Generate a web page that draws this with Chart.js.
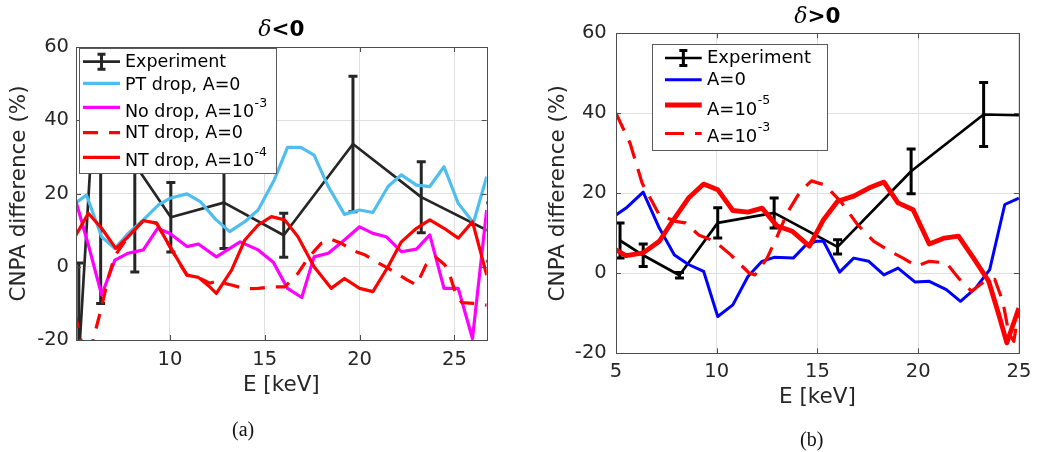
<!DOCTYPE html>
<html>
<head>
<meta charset="utf-8">
<script src="https://cdn.jsdelivr.net/npm/chart.js@4.4.1/dist/chart.umd.min.js"></script>
<style>
  body { margin: 0; background: #fff; }
  #wrap { position: relative; width: 1038px; height: 452px; overflow: hidden; }
  #wrap canvas { position: absolute; top: 0; }
  .cap { position: absolute; font-family: "Liberation Serif", "DejaVu Serif", serif; font-size: 20px; color: #111; line-height: 23px; }
</style>
</head>
<body>
<div id="wrap">
  <canvas id="chartNeg" width="520" height="452" style="left:0"></canvas>
  <canvas id="chartPos" width="518" height="452" style="left:520px"></canvas>
  <div class="cap" style="left:232px; top:418px">(a)</div>
  <div class="cap" style="left:800px; top:428px">(b)</div>
</div>
<script>
const FONT = "'DejaVu Sans', 'Open Sans', sans-serif";
const INK = "#262626";

// measured CNPA channels (same energies for both signs of delta)
const expEnergy = [5.2, 6.35, 8.15, 10.05, 12.85, 16.0, 19.65, 23.25, 26.9];

// ---- delta < 0 ----
const expNeg = [-25, 75, 28, 13.5, 17.5, 8.6, 33.5, 19.0, 9.5];
const expNegErr = [26, 85, 29.4, 9.5, 12.5, 6.0, 18.5, 9.7, 8.0];

const ptDropE = [5.0, 5.6, 6.4, 7.1, 7.8, 8.6, 9.4, 10.0, 10.9, 11.6, 12.4, 13.15, 13.95, 14.65, 15.5, 16.2, 16.9, 17.6, 18.35, 19.2, 20.0, 20.7, 21.5, 22.2, 23.0, 23.7, 24.45, 25.2, 26.0, 26.7];
const ptDropA0 = [17.3, 19.6, 8.2, 5.0, 9.1, 12.8, 16.9, 18.7, 19.9, 17.8, 13.0, 9.6, 12.3, 15.5, 23.7, 32.6, 32.6, 30.5, 21.9, 14.3, 15.5, 14.8, 21.9, 25.1, 22.3, 21.9, 27.3, 17.3, 12.0, 24.6];

const noDropE = [5.0, 5.7, 6.4, 7.1, 7.8, 8.6, 9.35, 10.0, 10.9, 11.5, 12.45, 13.7, 14.65, 15.45, 16.2, 16.95, 17.6, 18.35, 19.2, 20.0, 20.7, 21.4, 22.2, 23.0, 23.7, 24.45, 25.2, 25.95, 26.7];
const noDropA3 = [18.7, 6.0, -7.7, 1.8, 3.7, 4.6, 10.5, 9.1, 5.5, 6.2, 2.7, 6.8, 4.6, 1.2, -5.9, -8.4, 2.7, 3.7, 7.3, 10.9, 9.1, 8.2, 4.1, 4.8, 8.7, -5.9, -5.9, -19.6, 15.5];

const ntDropE = [5.0, 5.7, 6.4, 7.15, 7.8, 8.6, 9.3, 10.0, 10.9, 11.5, 12.1, 12.45, 13.25, 13.95, 14.65, 15.35, 16.05, 16.75, 17.6, 18.5, 19.2, 20.0, 20.7, 21.5, 22.2, 23.0, 23.7, 24.45, 25.2, 25.95, 26.7];
const ntDropA4 = [8.2, 14.6, 10.5, 5.0, 8.2, 12.6, 11.9, 5.5, -2.3, -2.9, -5.5, -7.3, -0.9, 7.3, 11.4, 13.7, 12.8, 8.2, 0.0, -5.9, -3.2, -5.9, -6.8, 0.0, 6.8, 10.5, 12.8, 10.5, 7.8, 12.3, -2.3];

const ntDropA0E = [5.0, 5.35, 5.7, 6.05, 6.4, 6.75, 7.1, 7.8, 8.6, 9.3, 10.0, 10.5, 10.9, 11.5, 12.1, 12.45, 13.25, 13.95, 14.65, 15.35, 16.05, 16.75, 17.3, 18.0, 18.5, 19.0, 19.7, 20.3, 21.0, 21.5, 22.5, 23.0, 23.5, 24.0, 24.5, 24.8, 25.1, 25.4, 26.0, 26.7];
const ntDropA0 = [-12.7, -21, -25, -18, -11, -3, 3, 8.2, 12.6, 11.9, 5.5, 1.0, -2.3, -2.9, -4.5, -4.0, -5.0, -6.0, -5.9, -5.5, -5.5, -1.8, 2.5, 6.5, 7.5, 6.5, 4.3, 3.2, 1.0, -0.4, -3.6, -5.0, 0.5, 2.7, 0.5, -3.0, -8.0, -9.8, -10.0, -10.5];

// ---- delta > 0 ----
const expPos = [8.2, 4.5, -0.5, 12.6, 15.1, 6.6, 25.5, 39.7, 39.3];
const expPosErr = [4.4, 2.8, 0.7, 3.8, 3.75, 1.8, 5.6, 8.0, 8.0];

const posA0E = [5.0, 5.5, 6.35, 7.15, 7.9, 8.6, 9.35, 10.05, 10.8, 11.55, 12.25, 12.85, 13.8, 14.45, 14.95, 15.3, 16.1, 16.8, 17.55, 18.3, 19.0, 19.85, 20.55, 21.4, 22.1, 22.85, 23.55, 24.3, 25.0];
const posA0 = [14.6, 16.3, 20.3, 11.3, 4.6, 2.2, 0.5, -10.8, -7.9, -0.8, 3.0, 4.0, 3.8, 7.2, 8.0, 8.0, 0.3, 3.8, 3.0, -0.4, 1.3, -2.2, -2.0, -4.1, -7.0, -3.7, 0.9, 17.2, 18.8];

const posA5E = [5.0, 5.5, 6.35, 7.15, 7.8, 8.6, 9.35, 10.05, 10.8, 11.55, 12.25, 13.0, 13.75, 14.6, 15.3, 16.0, 16.8, 17.55, 18.3, 19.0, 19.75, 20.55, 21.3, 22.0, 22.75, 23.5, 24.0, 24.4, 24.6, 25.0];
const posA5 = [5.9, 4.4, 5.1, 8.0, 13.0, 18.8, 22.3, 20.9, 15.7, 15.3, 16.3, 11.8, 10.5, 6.8, 13.4, 18.0, 19.3, 21.3, 22.8, 17.6, 15.9, 7.3, 8.8, 9.3, 3.8, -2.0, -10.3, -17.4, -14.5, -8.7];

const posA3E = [5.0, 5.7, 6.3, 7.15, 7.95, 8.45, 9.1, 9.9, 10.7, 11.6, 11.9, 12.5, 13.0, 13.5, 14.15, 14.7, 15.35, 16.15, 17.0, 17.8, 18.6, 19.25, 19.9, 20.55, 21.4, 22.0, 22.65, 23.3, 23.8, 24.2, 24.5, 24.75, 25.0];
const posA3 = [40, 32.5, 22.5, 14.6, 13.0, 12.6, 9.6, 8.0, 4.6, 0.1, -0.4, 3.8, 9.2, 15.1, 20.5, 23.1, 22.1, 18.0, 12.1, 8.0, 5.5, 3.8, 1.8, 3.0, 2.6, -1.2, -4.5, -2.0, -1.5, -7, -15, -17, -9];

const yTicks = [-20, 0, 20, 40, 60];
const xTicksNeg = [10, 15, 20, 25];
const xTicksPos = [5, 10, 15, 20, 25];

// legend texts: [main, superscript]
const legendNeg = [["Experiment"], ["PT drop, A=0"], ["No drop, A=10", "-3"], ["NT drop, A=0"], ["NT drop, A=10", "-4"]];
const legendPos = [["Experiment"], ["A=0"], ["A=10", "-5"], ["A=10", "-3"]];

function series(label, xs, ys, color, width, dash, order) {
    return {
        label: label,
        data: xs.map((x, i) => ({ x: x, y: ys[i] })),
        borderColor: color,
        backgroundColor: color,
        borderWidth: width,
        borderDash: dash || [],
        borderJoinStyle: "round",
        pointRadius: 0,
        tension: 0,
        clip: 0,
        order: order,
    };
}

// vertical error bars for datasets carrying an `errors` array
const errorBars = {
    id: "errorBars",
    afterDatasetDraw(chart, args) {
        const ds = chart.data.datasets[args.index];
        if (!ds.errors) return;
        const ctx = chart.ctx;
        const a = chart.chartArea;
        const xs = chart.scales.x, ys = chart.scales.y;
        ctx.save();
        ctx.beginPath();
        ctx.rect(a.left, a.top, a.right - a.left, a.bottom - a.top);
        ctx.clip();
        ctx.strokeStyle = ds.borderColor;
        ctx.lineWidth = ds.errorWidth;
        ds.data.forEach((p, i) => {
            const px = xs.getPixelForValue(p.x);
            const lo = ys.getPixelForValue(p.y - ds.errors[i]);
            const hi = ys.getPixelForValue(p.y + ds.errors[i]);
            ctx.beginPath();
            ctx.moveTo(px, lo); ctx.lineTo(px, hi);
            ctx.moveTo(px - 4.5, lo); ctx.lineTo(px + 4.5, lo);
            ctx.moveTo(px - 4.5, hi); ctx.lineTo(px + 4.5, hi);
            ctx.stroke();
        });
        ctx.restore();
    },
};

// box around the plot area with inward tick marks on all four sides
const axesBox = {
    id: "axesBox",
    afterDatasetsDraw(chart) {
        const ctx = chart.ctx;
        const a = chart.chartArea;
        const xs = chart.scales.x, ys = chart.scales.y;
        ctx.save();
        ctx.strokeStyle = "#4d4d4d";
        ctx.lineWidth = 1;
        ctx.beginPath();
        xs.ticks.forEach(t => {
            const px = Math.round(xs.getPixelForValue(t.value)) + 0.5;
            ctx.moveTo(px, a.bottom); ctx.lineTo(px, a.bottom - 5);
            ctx.moveTo(px, a.top); ctx.lineTo(px, a.top + 5);
        });
        ys.ticks.forEach(t => {
            const py = Math.round(ys.getPixelForValue(t.value)) + 0.5;
            ctx.moveTo(a.left, py); ctx.lineTo(a.left + 5, py);
            ctx.moveTo(a.right, py); ctx.lineTo(a.right - 5, py);
        });
        ctx.stroke();
        ctx.strokeRect(Math.round(a.left) + 0.5, Math.round(a.top) + 0.5,
            Math.round(a.right - a.left), Math.round(a.bottom - a.top));
        ctx.restore();
    },
};

// legend box drawn inside the axes
const boxLegend = {
    id: "boxLegend",
    afterDraw(chart, args, opts) {
        if (!opts || !opts.rows) return;
        const ctx = chart.ctx;
        const ds = chart.data.datasets;
        ctx.save();
        ctx.fillStyle = "#fff";
        ctx.fillRect(opts.x, opts.y, opts.w, opts.h);
        ctx.strokeStyle = "#5a5a5a";
        ctx.lineWidth = 1;
        ctx.strokeRect(Math.round(opts.x) + 0.5, Math.round(opts.y) + 0.5, Math.round(opts.w), Math.round(opts.h));
        opts.rows.forEach((r, i) => {
            const d = ds[i];
            ctx.strokeStyle = d.borderColor;
            ctx.lineWidth = d.borderWidth;
            ctx.setLineDash(d.borderDash || []);
            ctx.beginPath();
            ctx.moveTo(opts.lineX0, r.lineY);
            ctx.lineTo(opts.lineX1, r.lineY);
            ctx.stroke();
            ctx.setLineDash([]);
            if (d.errors) {
                const cx = (opts.lineX0 + opts.lineX1) / 2;
                ctx.lineWidth = d.errorWidth;
                ctx.beginPath();
                ctx.moveTo(cx, r.lineY - 7.5); ctx.lineTo(cx, r.lineY + 7.5);
                ctx.moveTo(cx - 4, r.lineY - 7.5); ctx.lineTo(cx + 4, r.lineY - 7.5);
                ctx.moveTo(cx - 4, r.lineY + 7.5); ctx.lineTo(cx + 4, r.lineY + 7.5);
                ctx.stroke();
            }
            const txt = opts.texts[i];
            ctx.fillStyle = "#000";
            ctx.textAlign = "left";
            ctx.textBaseline = "middle";
            ctx.font = `${opts.fontSize}px ${FONT}`;
            ctx.fillText(txt[0], opts.textX, r.textY);
            if (txt[1]) {
                const w = ctx.measureText(txt[0]).width;
                ctx.font = `${opts.supSize}px ${FONT}`;
                ctx.fillText(txt[1], opts.textX + w + 0.5, r.textY - 9);
            }
        });
        ctx.restore();
    },
};

// "δ<0" style title: italic symbol followed by bold text
const panelTitle = {
    id: "panelTitle",
    afterDraw(chart, args, opts) {
        if (!opts || !opts.text) return;
        const ctx = chart.ctx;
        const a = chart.chartArea;
        const symFont = "italic 22px 'DejaVu Serif', serif";
        const txtFont = `bold 21.5px ${FONT}`;
        ctx.save();
        ctx.font = symFont;
        const w1 = ctx.measureText("δ").width;
        ctx.font = txtFont;
        const w2 = ctx.measureText(opts.text).width;
        const x0 = (a.left + a.right) / 2 - (w1 + w2) / 2;
        ctx.fillStyle = "#000";
        ctx.textBaseline = "middle";
        ctx.textAlign = "left";
        ctx.font = symFont;
        ctx.fillText("δ", x0, opts.y);
        ctx.font = txtFont;
        ctx.fillText(opts.text, x0 + w1, opts.y);
        ctx.restore();
    },
};

function makeScales(cfg) {
    return {
        x: {
            type: "linear",
            min: cfg.xMin,
            max: cfg.xMax,
            afterBuildTicks: s => { s.ticks = cfg.xTicks.map(v => ({ value: v })); },
            afterFit: s => { s.height = 60; },
            grid: { color: "#e0e0e0", drawTicks: false },
            border: { display: false },
            ticks: { autoSkip: false, maxRotation: 0, padding: cfg.xTickPad, color: INK, font: { family: FONT, size: 19.5 } },
            title: { display: true, text: "E [keV]", color: INK, font: { family: FONT, size: 21.5 }, padding: { top: 0, bottom: cfg.xTitlePad } },
        },
        y: {
            type: "linear",
            min: -20,
            max: 60,
            afterBuildTicks: s => { s.ticks = yTicks.map(v => ({ value: v })); },
            afterFit: s => { s.width = cfg.yWidth; },
            grid: { color: "#e0e0e0", drawTicks: false },
            border: { display: false },
            ticks: { padding: cfg.yTickPad, color: INK, font: { family: FONT, size: 19.5 } },
            title: { display: true, text: "CNPA difference (%)", color: INK, font: { family: FONT, size: 21.5 }, padding: { top: cfg.yTitlePad, bottom: 0 } },
        },
    };
}

const plugins = [errorBars, axesBox, boxLegend, panelTitle];

const experimentNeg = series("Experiment", expEnergy, expNeg, INK, 2.7, null, 10);
experimentNeg.errors = expNegErr;
experimentNeg.errorWidth = 3;

new Chart(document.getElementById("chartNeg").getContext("2d"), {
    type: "line",
    data: {
        datasets: [
            experimentNeg,
            series("PT drop, A=0", ptDropE, ptDropA0, "#4DBEEE", 3.2, null, 4),
            series("No drop, A=1e-3", noDropE, noDropA3, "#FF00FF", 3.2, null, 3),
            series("NT drop, A=0", ntDropA0E, ntDropA0, "#FF0000", 3.2, [15, 11], 2),
            series("NT drop, A=1e-4", ntDropE, ntDropA4, "#FF0000", 3.2, null, 1),
        ],
    },
    options: {
        responsive: false,
        animation: false,
        events: [],
        layout: { padding: { left: 0, top: 47, right: 33.3, bottom: 52 } },
        scales: makeScales({ xMin: 5.05, xMax: 26.7, xTicks: xTicksNeg, xTickPad: 8.5, xTitlePad: 2, yWidth: 76, yTickPad: 7, yTitlePad: 7 }),
        plugins: {
            legend: { display: false },
            tooltip: { enabled: false },
            panelTitle: { text: "<0", y: 30 },
            boxLegend: {
                x: 79, y: 48, w: 197, h: 125,
                lineX0: 83, lineX1: 120, textX: 125,
                fontSize: 17.5, supSize: 12.5,
                texts: legendNeg,
                rows: [
                    { lineY: 61.7, textY: 62.7 },
                    { lineY: 83.3, textY: 85 },
                    { lineY: 107.3, textY: 112.5 },
                    { lineY: 132.7, textY: 133.5 },
                    { lineY: 157.3, textY: 161.5 },
                ],
            },
        },
    },
    plugins: plugins,
});

const experimentPos = series("Experiment", expEnergy, expPos, "#000000", 2.7, null, 10);
experimentPos.errors = expPosErr;
experimentPos.errorWidth = 3;

new Chart(document.getElementById("chartPos").getContext("2d"), {
    type: "line",
    data: {
        datasets: [
            experimentPos,
            series("A=0", posA0E, posA0, "#0000FF", 3, null, 3),
            series("A=1e-5", posA5E, posA5, "#FF0000", 4.8, null, 2),
            series("A=1e-3", posA3E, posA3, "#FF0000", 3.2, [19, 11], 1),
        ],
    },
    options: {
        responsive: false,
        animation: false,
        events: [],
        layout: { padding: { left: 0, top: 33.3, right: 12.3, bottom: 38.7 } },
        scales: makeScales({ xMin: 5, xMax: 25, xTicks: xTicksPos, xTickPad: 6.7, xTitlePad: 3.4, yWidth: 96, yTickPad: 9.3, yTitlePad: 25.6 }),
        plugins: {
            legend: { display: false },
            tooltip: { enabled: false },
            panelTitle: { text: ">0", y: 17 },
            boxLegend: {
                x: 132.3, y: 44, w: 175, h: 105.7,
                lineX0: 145, lineX1: 181.7, textX: 187,
                fontSize: 18, supSize: 12.5,
                texts: legendPos,
                rows: [
                    { lineY: 58, textY: 58 },
                    { lineY: 79.7, textY: 80.3 },
                    { lineY: 105, textY: 110 },
                    { lineY: 133.5, textY: 137 },
                ],
            },
        },
    },
    plugins: plugins,
});
</script>
</body>
</html>
